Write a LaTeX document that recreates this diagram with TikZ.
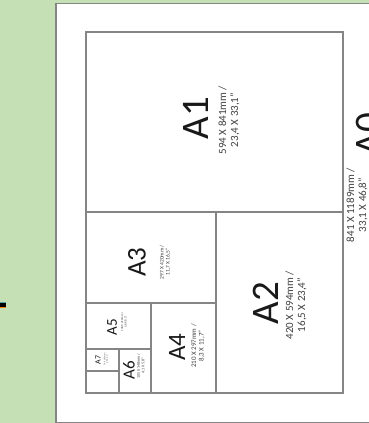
\documentclass[tikz,border=0pt]{standalone}
\usepackage{fontspec}
\setmainfont{Carlito}
\definecolor{bggreen}{HTML}{C5E0B4}
\definecolor{rule}{HTML}{858585}
\newcommand{\fsz}[2]{\fontsize{#1}{#2}\selectfont}

\begin{document}
\begin{tikzpicture}[x=1pt, y=-1pt]
\tikzstyle{sheet}=[draw=rule, line width=1.6pt]
\tikzstyle{cut}=[draw=rule, line width=1.3pt]
\tikzstyle{aname}=[rotate=90, inner sep=0pt, text=black!90]
\tikzstyle{asize}=[rotate=90, inner sep=0pt, align=center, text=black!75]
\useasboundingbox (0,0) rectangle (369,423);
\fill[bggreen] (0,0) rectangle (369,423);
% small mark on the left
\fill[black] (0,303) rectangle (6,306.6);
\draw[teal!70, line width=0.8pt] (0,302.4) -- (6,302.4);
\draw[orange!80!brown, line width=0.8pt] (0,307.2) -- (6,307.2);
% sheet
\draw[sheet, fill=white] (56,3.5) rectangle (385,422.5);
% A0 and its halves
\draw[cut] (86,32) rectangle (343,393);
\draw[cut] (86,212) -- (343,212);
\draw[cut] (216,212) -- (216,393);
\draw[cut] (86,303) -- (216,303);
\draw[cut] (151,303) -- (151,393);
\draw[cut] (86,349) -- (151,349);
\draw[cut] (119,349) -- (119,393);
\draw[cut] (86,371) -- (119,371);
% names and sizes
\node[aname, font=\fsz{39}{39}] (a0) at (369,134) {A0};
\node[asize, font=\fsz{11}{12}] (a0s) at (357,205) {841 X 1189mm /\\33,1 X 46,8"};
\node[aname, font=\fsz{39}{39}] (a1) at (196,118) {A1};
\node[asize, font=\fsz{11}{12}] (a1s) at (229,120) {594 X 841mm /\\23,4 X 33,1"};
\node[aname, font=\fsz{39}{39}] (a2) at (266,303) {A2};
\node[asize, font=\fsz{11}{12}] (a2s) at (296,305) {420 X 594mm /\\16,5 X 23,4"};
\node[aname, font=\fsz{27}{27}] (a3) at (137,262) {A3};
\node[asize, font=\fsz{5.5}{6}] (a3s) at (165,262) {297 X 420mm /\\11,7 X 16,5"};
\node[aname, font=\fsz{25}{25}] (a4) at (177,347) {A4};
\node[asize, font=\fsz{7}{7.5}] (a4s) at (198,346) {210 X 297mm /\\8,3 X 11,7"};
\node[aname, font=\fsz{15}{15}] (a5) at (112,327) {A5};
\node[asize, font=\fsz{3}{3.3}] (a5s) at (124,322) {148 X 210mm /\\5,8 X 8,3"};
\node[aname, font=\fsz{17}{17}] (a6) at (129,370) {A6};
\node[asize, font=\fsz{4}{4.4}] (a6s) at (141,366) {105 X 148mm /\\4,1 X 5,8"};
\node[aname, font=\fsz{8}{8}] (a7) at (98,360) {A7};
\node[asize, font=\fsz{2.2}{2.5}] (a7s) at (106,359) {74 X 105mm /\\2,9 X 4,1"};
\end{tikzpicture}
\end{document}
